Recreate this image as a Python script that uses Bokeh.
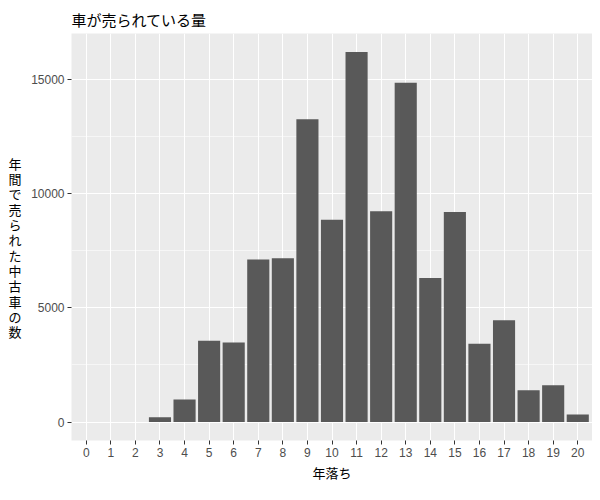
from bokeh.plotting import figure
from bokeh.models import FactorRange, Range1d, FixedTicker, ColumnDataSource, LinearAxis
from bokeh.embed import file_html
from bokeh.resources import INLINE

chart_title = "車が売られている量"
x_title = "年落ち"
y_title = "年間で売られた中古車の数"
years = [str(i) for i in range(21)]
counts = [0, 0, 0, 210, 980, 3560, 3480, 7120, 7170, 13260, 8850, 16200,
          9230, 14850, 6310, 9190, 3430, 4450, 1390, 1610, 330]
y_ticks = [0, 5000, 10000, 15000]
y_minor = [2500, 7500, 12500]

JP = "Noto Sans CJK JP"
SANS = "Liberation Sans"

src = ColumnDataSource(dict(year=years, count=counts))

p = figure(
    width=592, height=484,
    x_range=FactorRange(factors=years, range_padding=0.1, range_padding_units="absolute"),
    y_range=Range1d(-810, 17010),
    output_backend="svg", toolbar_location=None,
    title=chart_title,
    min_border_left=71, min_border_right=0, min_border_top=33, min_border_bottom=44,
)
p.vbar(x="year", top="count", width=0.9, source=src, fill_color="#595959", line_color=None)

p.background_fill_color = "#EBEBEB"
p.border_fill_color = "white"
p.outline_line_color = None

p.title.text_font = JP
p.title.text_font_size = "15px"
p.title.text_font_style = "normal"
p.title.text_color = "#000000"
p.title.align = "left"
p.title.standoff = 8

for g in (p.xgrid, p.ygrid):
    g.grid_line_color = "white"
    g.grid_line_width = 1.1
p.ygrid.minor_grid_line_color = "white"
p.ygrid.minor_grid_line_width = 0.55

main_y = p.yaxis[0]
main_y.ticker = FixedTicker(ticks=y_ticks, minor_ticks=y_minor)
for ax in (p.xaxis[0], main_y):
    ax.axis_line_color = None
    ax.major_tick_line_color = "#333333"
    ax.major_tick_in = 0
    ax.major_tick_out = 4
    ax.minor_tick_line_color = None
    ax.major_label_text_font = SANS
    ax.major_label_text_font_size = "12px"
    ax.major_label_text_color = "#4D4D4D"
    ax.major_label_standoff = 3

p.xaxis.axis_label = x_title
p.xaxis.axis_label_text_font = JP
p.xaxis.axis_label_text_font_size = "13px"
p.xaxis.axis_label_text_font_style = "normal"
p.xaxis.axis_label_text_color = "#000000"
p.xaxis.axis_label_standoff = 3
p.xaxis.major_label_orientation = "horizontal"

# Upright, stacked y-axis title (one character per line, as in the reference)
chars = list(y_title)
frame_px = 484 - 33 - 44
units_per_px = (17010 - (-810)) / frame_px
line_px = 15.3
center_val = 17010 - (247 - 33) * units_per_px
n = len(chars)
char_pos = [int(round(center_val + ((n - 1) / 2 - i) * line_px * units_per_px)) for i in range(n)]
ylab_axis = LinearAxis(
    ticker=FixedTicker(ticks=char_pos, minor_ticks=[]),
    major_label_overrides={pos: ch for pos, ch in zip(char_pos, chars)},
    axis_line_color=None, major_tick_line_color=None, minor_tick_line_color=None,
    major_tick_in=0, major_tick_out=0,
    major_label_text_font=JP, major_label_text_font_size="13px",
    major_label_text_color="#000000", major_label_standoff=7,
)
p.add_layout(ylab_axis, "left")

open("out.html", "w").write(file_html(p, INLINE))
